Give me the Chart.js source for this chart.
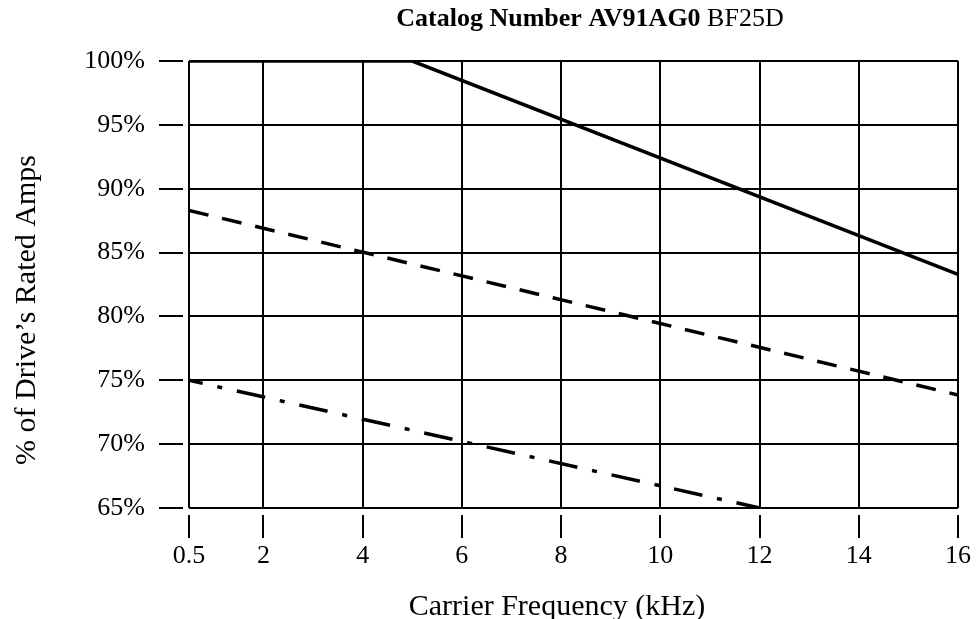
<!DOCTYPE html>
<html>
<head>
<meta charset="utf-8">
<script src="https://cdn.jsdelivr.net/npm/chart.js@4.4.1/dist/chart.umd.min.js"></script>
<style>
  html, body { margin: 0; padding: 0; background: #fff; }
  #wrap { width: 979px; height: 619px; }
</style>
</head>
<body>
<div id="wrap"><canvas id="chart" width="979" height="619"></canvas></div>
<script>
// values
const xTicks = [0.5, 2, 4, 6, 8, 10, 12, 14, 16];
const solidX = [0.5, 5, 16];
const solidY = [100, 100, 83.3];
const dashedX = [0.5, 16];
const dashedY = [88.3, 73.85];
const dashDotX = [0.5, 12];
const dashDotY = [75, 65];

const toPoints = (xs, ys) => xs.map((x, i) => ({ x: x, y: ys[i] }));

const FONT = "'Liberation Serif', 'Times New Roman', serif";

// title in two weights + axis titles placed off-centre like the original
const textPlugin = {
  id: 'texts',
  afterDraw(chart) {
    const ctx = chart.ctx;
    const bold = 'Catalog Number AV91AG0 ';
    const normal = 'BF25D';
    ctx.save();
    ctx.fillStyle = '#000';
    ctx.textBaseline = 'middle';
    ctx.font = 'bold 26px ' + FONT;
    const w1 = ctx.measureText(bold).width;
    ctx.font = '26px ' + FONT;
    const w2 = ctx.measureText(normal).width;
    let x = 590 - (w1 + w2) / 2;
    ctx.font = 'bold 26px ' + FONT;
    ctx.fillText(bold, x, 19);
    ctx.font = '26px ' + FONT;
    ctx.fillText(normal, x + w1, 19);

    ctx.font = '30px ' + FONT;
    ctx.textAlign = 'center';
    ctx.textBaseline = 'alphabetic';
    ctx.fillText('Carrier Frequency (kHz)', 557, 615);

    ctx.translate(35, 310);
    ctx.rotate(-Math.PI / 2);
    ctx.fillText('% of Drive\u2019s Rated Amps', 0, 0);
    ctx.restore();
  }
};

new Chart(document.getElementById('chart').getContext('2d'), {
  type: 'line',
  data: {
    datasets: [
      {
        data: toPoints(solidX, solidY),
        borderColor: '#000',
        borderWidth: 3.5,
        pointRadius: 0,
      },
      {
        data: toPoints(dashedX, dashedY),
        borderColor: '#000',
        borderWidth: 3.5,
        borderDash: [20, 14],
        pointRadius: 0,
      },
      {
        data: toPoints(dashDotX, dashDotY),
        borderColor: '#000',
        borderWidth: 3.5,
        borderDash: [29, 15, 5, 15],
        borderDashOffset: 15,
        pointRadius: 0,
      },
    ],
  },
  options: {
    responsive: false,
    animation: false,
    layout: { padding: { top: 61, right: 21, left: 0, bottom: 0 } },
    plugins: {
      legend: { display: false },
      tooltip: { enabled: false },
    },
    scales: {
      x: {
        type: 'linear',
        min: 0.5,
        max: 16,
        afterBuildTicks: (scale) => { scale.ticks = xTicks.map(v => ({ value: v })); },
        afterFit: (scale) => { scale.height = 111; },
        border: { display: false },
        grid: {
          color: '#000',
          lineWidth: 2,
          tickLength: 30,
          tickColor: '#000',
          tickWidth: 2,
          tickBorderDash: [23, 100],
          tickBorderDashOffset: 116,
        },
        ticks: {
          color: '#000',
          font: { family: FONT, size: 26 },
          padding: 3,
          autoSkip: false,
          maxRotation: 0,
          callback: (v) => String(v),
        },
      },
      y: {
        min: 65,
        max: 100,
        afterFit: (scale) => { scale.width = 189; },
        border: { display: false },
        grid: {
          color: '#000',
          lineWidth: 2,
          tickLength: 30,
          tickColor: '#000',
          tickWidth: 2,
          tickBorderDash: [24, 100],
          tickBorderDashOffset: 0,
        },
        ticks: {
          stepSize: 5,
          color: '#000',
          font: { family: FONT, size: 26 },
          padding: 14,
          callback: (v) => v + '%',
        },
      },
    },
  },
  plugins: [textPlugin],
});
</script>
</body>
</html>
